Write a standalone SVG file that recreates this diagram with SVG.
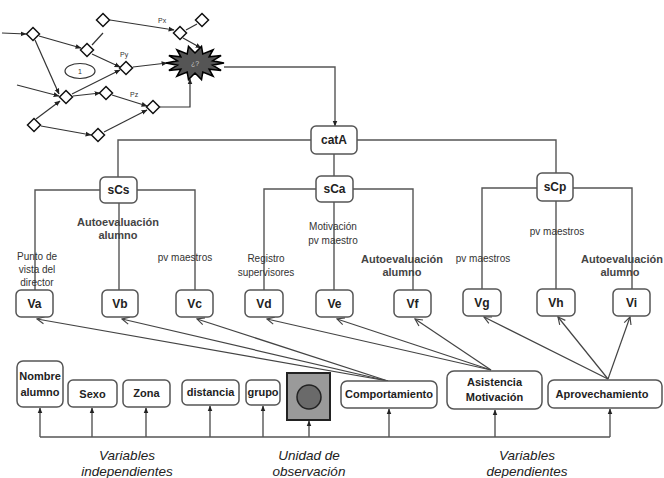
<svg xmlns="http://www.w3.org/2000/svg" xmlns:xlink="http://www.w3.org/1999/xlink" width="664" height="478" viewBox="0 0 664 478">
<style>
.box{fill:#fff;stroke:#555;stroke-width:1.5}
.t{font-family:"Liberation Sans",Arial,sans-serif;font-weight:bold;font-size:12px;fill:#222;text-anchor:middle}
.tb{font-family:"Liberation Sans",Arial,sans-serif;font-weight:bold;font-size:11px;fill:#222;text-anchor:middle}
.a10{font-family:"Liberation Sans",Arial,sans-serif;font-size:10px;fill:#333;text-anchor:middle}
.a11{font-family:"Liberation Sans",Arial,sans-serif;font-weight:bold;font-size:11px;fill:#444;text-anchor:middle}
.it{font-family:"Liberation Sans",Arial,sans-serif;font-style:italic;font-size:13.5px;fill:#222;text-anchor:middle}
.tiny{font-family:"Liberation Sans",Arial,sans-serif;font-size:7px;fill:#333}
.c{stroke:#555;stroke-width:1.4;fill:none}
.n{stroke:#333;stroke-width:1.2;fill:none}
.dia{fill:#fff;stroke:#111;stroke-width:1.5}
</style>
<defs>
<marker id="af" viewBox="0 0 10 10" refX="9" refY="5" markerWidth="6" markerHeight="6" orient="auto" markerUnits="userSpaceOnUse"><path d="M0,1 L10,5 L0,9 Z" fill="#222"/></marker>
<marker id="ao" viewBox="0 0 10 10" refX="9" refY="5" markerWidth="9" markerHeight="9" orient="auto" markerUnits="userSpaceOnUse"><path d="M1,1 L9,5 L1,9" fill="none" stroke="#444" stroke-width="1.3"/></marker>
<path id="dia" d="M0,-6.5 L6.5,0 L0,6.5 L-6.5,0 Z"/>
</defs>

<!-- top-left network -->
<g id="network">
<g class="n">
<path d="M2,33 L26,34" marker-end="url(#af)"/>
<path d="M39,36 L81,48" marker-end="url(#af)"/>
<path d="M92,54 L120,67" marker-end="url(#af)"/>
<path d="M92,45 L103,33"/>
<path d="M35,40 L59,94" marker-end="url(#af)"/>
<path d="M17,85 L59,96" marker-end="url(#af)"/>
<path d="M36,119 L60,101" marker-end="url(#af)"/>
<path d="M72,94 L120,70" marker-end="url(#af)"/>
<path d="M73,96 L100,93" marker-end="url(#af)"/>
<path d="M112,95 L147,106" marker-end="url(#af)"/>
<path d="M41,126 L91,135" marker-end="url(#af)"/>
<path d="M104,132 L147,110" marker-end="url(#af)"/>
<path d="M160,107 H190 V79" marker-end="url(#af)"/>
<path d="M133,67 L167,63" marker-end="url(#af)"/>
<path d="M110,20 L174,30" marker-end="url(#af)"/>
<path d="M186,30 L197,24"/>
<path d="M183,38 L201,48" marker-end="url(#af)"/>
</g>
<use xlink:href="#dia" href="#dia" class="dia" x="33" y="34"/>
<use xlink:href="#dia" href="#dia" class="dia" x="103" y="20"/>
<use xlink:href="#dia" href="#dia" class="dia" x="202" y="20"/>
<use xlink:href="#dia" href="#dia" class="dia" x="180" y="33"/>
<use xlink:href="#dia" href="#dia" class="dia" x="87" y="50"/>
<use xlink:href="#dia" href="#dia" class="dia" x="126" y="68"/>
<use xlink:href="#dia" href="#dia" class="dia" x="66" y="97"/>
<use xlink:href="#dia" href="#dia" class="dia" x="106" y="93"/>
<use xlink:href="#dia" href="#dia" class="dia" x="153" y="107"/>
<use xlink:href="#dia" href="#dia" class="dia" x="34" y="125"/>
<use xlink:href="#dia" href="#dia" class="dia" x="98" y="135"/>
<ellipse cx="80" cy="71" rx="15" ry="7.5" fill="#fff" stroke="#333" stroke-width="1.2"/>
<text class="tiny" x="80" y="74" text-anchor="middle">1</text>
<text class="tiny" x="158" y="23">Px</text>
<text class="tiny" x="120" y="57">Py</text>
<text class="tiny" x="130" y="97">Pz</text>
</g>

<g id="star">
<polygon points="224,63 212.6,65.2 221.1,70.4 209.1,69.2 213.1,76.3 202.8,72 201.5,79.6 195,73 188.5,79.6 187.2,72 176.9,76.3 180.9,69.2 168.9,70.4 177.4,65.2 166,63 177.4,60.8 168.9,55.6 180.9,56.8 176.9,49.7 187.2,54 188.5,46.4 195,53 201.5,46.4 202.8,54 213.1,49.7 209.1,56.8 221.1,55.6 212.6,60.8" fill="#555" stroke="#000" stroke-width="1.5"/>
<text x="195" y="66" text-anchor="middle" font-family="Liberation Sans, Arial, sans-serif" font-size="7" fill="#ccc">¿?</text>
</g>

<!-- connectors -->
<g id="connectors">
<path class="c" d="M224,67 H335 V126" marker-end="url(#af)"/>
<path class="c" d="M311,140 H118 V177"/>
<path class="c" d="M357,140 H556 V173"/>
<path class="c" d="M334,154 V176"/>
<path class="c" d="M100,190 H35 V290"/>
<path class="c" d="M137,190 H195 V290"/>
<path class="c" d="M119,203 V290"/>
<path class="c" d="M316,189 H264 V290"/>
<path class="c" d="M353,189 H413 V290"/>
<path class="c" d="M334,202 V290"/>
<path class="c" d="M537,188 H482 V289"/>
<path class="c" d="M573,188 H632 V289"/>
<path class="c" d="M556,201 V289"/>
<g stroke="#444" stroke-width="1.2" fill="none">
<path d="M388,381 L37,319" marker-end="url(#ao)"/>
<path d="M388,381 L122,319" marker-end="url(#ao)"/>
<path d="M388,381 L197,319" marker-end="url(#ao)"/>
<path d="M491,370 L267,319" marker-end="url(#ao)"/>
<path d="M491,370 L337,319" marker-end="url(#ao)"/>
<path d="M491,370 L415,319" marker-end="url(#ao)"/>
<path d="M608,379 L484,317" marker-end="url(#ao)"/>
<path d="M608,379 L558,317" marker-end="url(#ao)"/>
<path d="M608,379 L630,317" marker-end="url(#ao)"/>
</g>
<path class="c" d="M40,437 H610"/>
<g class="c">
<path d="M40,437 V408" marker-end="url(#af)"/>
<path d="M92,437 V408" marker-end="url(#af)"/>
<path d="M146,437 V408" marker-end="url(#af)"/>
<path d="M210,437 V406" marker-end="url(#af)"/>
<path d="M263,437 V406" marker-end="url(#af)"/>
<path d="M309,437 V421" marker-end="url(#af)"/>
<path d="M389,437 V409" marker-end="url(#af)"/>
<path d="M495,437 V410" marker-end="url(#af)"/>
<path d="M610,437 V409" marker-end="url(#af)"/>
</g>
</g>

<!-- nodes -->
<g id="catA"><rect class="box" x="311" y="126" width="46" height="28" rx="5"/><text class="t" x="334" y="144">catA</text></g>
<g id="sCs"><rect class="box" x="100" y="177" width="37" height="26" rx="5"/><text class="t" x="118.5" y="194">sCs</text></g>
<g id="sCa"><rect class="box" x="316" y="176" width="37" height="26" rx="5"/><text class="t" x="334.5" y="193">sCa</text></g>
<g id="sCp"><rect class="box" x="537" y="173" width="36" height="28" rx="5"/><text class="t" x="555" y="191">sCp</text></g>

<g id="Va"><rect class="box" x="16" y="290" width="37" height="27" rx="5"/><text class="t" x="34.5" y="308">Va</text></g>
<g id="Vb"><rect class="box" x="102" y="290" width="36" height="27" rx="5"/><text class="t" x="120" y="308">Vb</text></g>
<g id="Vc"><rect class="box" x="176" y="290" width="37" height="27" rx="5"/><text class="t" x="194.5" y="308">Vc</text></g>
<g id="Vd"><rect class="box" x="245" y="290" width="38" height="27" rx="5"/><text class="t" x="264" y="308">Vd</text></g>
<g id="Ve"><rect class="box" x="316" y="290" width="37" height="27" rx="5"/><text class="t" x="334.5" y="308">Ve</text></g>
<g id="Vf"><rect class="box" x="394" y="290" width="37" height="27" rx="5"/><text class="t" x="412.5" y="308">Vf</text></g>
<g id="Vg"><rect class="box" x="463" y="289" width="38" height="27" rx="5"/><text class="t" x="482" y="307">Vg</text></g>
<g id="Vh"><rect class="box" x="537" y="289" width="38" height="27" rx="5"/><text class="t" x="556" y="307">Vh</text></g>
<g id="Vi"><rect class="box" x="613" y="289" width="37" height="27" rx="5"/><text class="t" x="631.5" y="307">Vi</text></g>

<g id="nombre"><rect class="box" x="17" y="361" width="46" height="46" rx="6"/><text class="tb" x="40" y="380">Nombre</text><text class="tb" x="40" y="396">alumno</text></g>
<g id="sexo"><rect class="box" x="68" y="380" width="49" height="27" rx="5"/><text class="tb" x="92.5" y="398">Sexo</text></g>
<g id="zona"><rect class="box" x="123" y="380" width="47" height="27" rx="5"/><text class="tb" x="146.5" y="397">Zona</text></g>
<g id="distancia"><rect class="box" x="182" y="380" width="57" height="25" rx="5"/><text class="tb" x="210.5" y="396">distancia</text></g>
<g id="grupo"><rect class="box" x="246" y="380" width="34" height="25" rx="5"/><text class="tb" x="263" y="396">grupo</text></g>
<g id="unidad"><rect x="287" y="373" width="43" height="47" fill="#9a9a9a" stroke="#222" stroke-width="2"/><circle cx="309" cy="397" r="12" fill="#6a6a6a" stroke="#222" stroke-width="1.5"/></g>
<g id="comportamiento"><rect class="box" x="341" y="381" width="96" height="27" rx="6"/><text class="tb" x="389" y="398">Comportamiento</text></g>
<g id="asistencia"><rect class="box" x="447" y="371" width="95" height="38" rx="7"/><text class="tb" x="494.5" y="386">Asistencia</text><text class="tb" x="494.5" y="401">Motivación</text></g>
<g id="aprovechamiento"><rect class="box" x="548" y="380" width="114" height="28" rx="6"/><text class="tb" x="602" y="398">Aprovechamiento</text></g>

<!-- edge labels -->
<g id="labels">
<text class="a10" x="37" y="260">Punto de</text>
<text class="a10" x="37" y="273">vista del</text>
<text class="a10" x="37" y="286">director</text>
<text class="a11" x="118" y="226">Autoevaluación</text>
<text class="a11" x="118" y="239">alumno</text>
<text class="a10" x="185" y="261">pv maestros</text>
<text class="a10" x="266" y="262">Registro</text>
<text class="a10" x="266" y="276">supervisores</text>
<text class="a10" x="333" y="230">Motivación</text>
<text class="a10" x="333" y="244">pv maestro</text>
<text class="a11" x="402" y="263">Autoevaluación</text>
<text class="a11" x="402" y="276">alumno</text>
<text class="a10" x="483" y="262">pv maestros</text>
<text class="a10" x="557" y="235">pv maestros</text>
<text class="a11" x="622" y="263">Autoevaluación</text>
<text class="a11" x="620" y="276">alumno</text>
<text class="it" x="127" y="460">Variables</text>
<text class="it" x="127" y="476">independientes</text>
<text class="it" x="309" y="460">Unidad de</text>
<text class="it" x="309" y="476">observación</text>
<text class="it" x="527" y="460">Variables</text>
<text class="it" x="527" y="476">dependientes</text>
</g>
</svg>
